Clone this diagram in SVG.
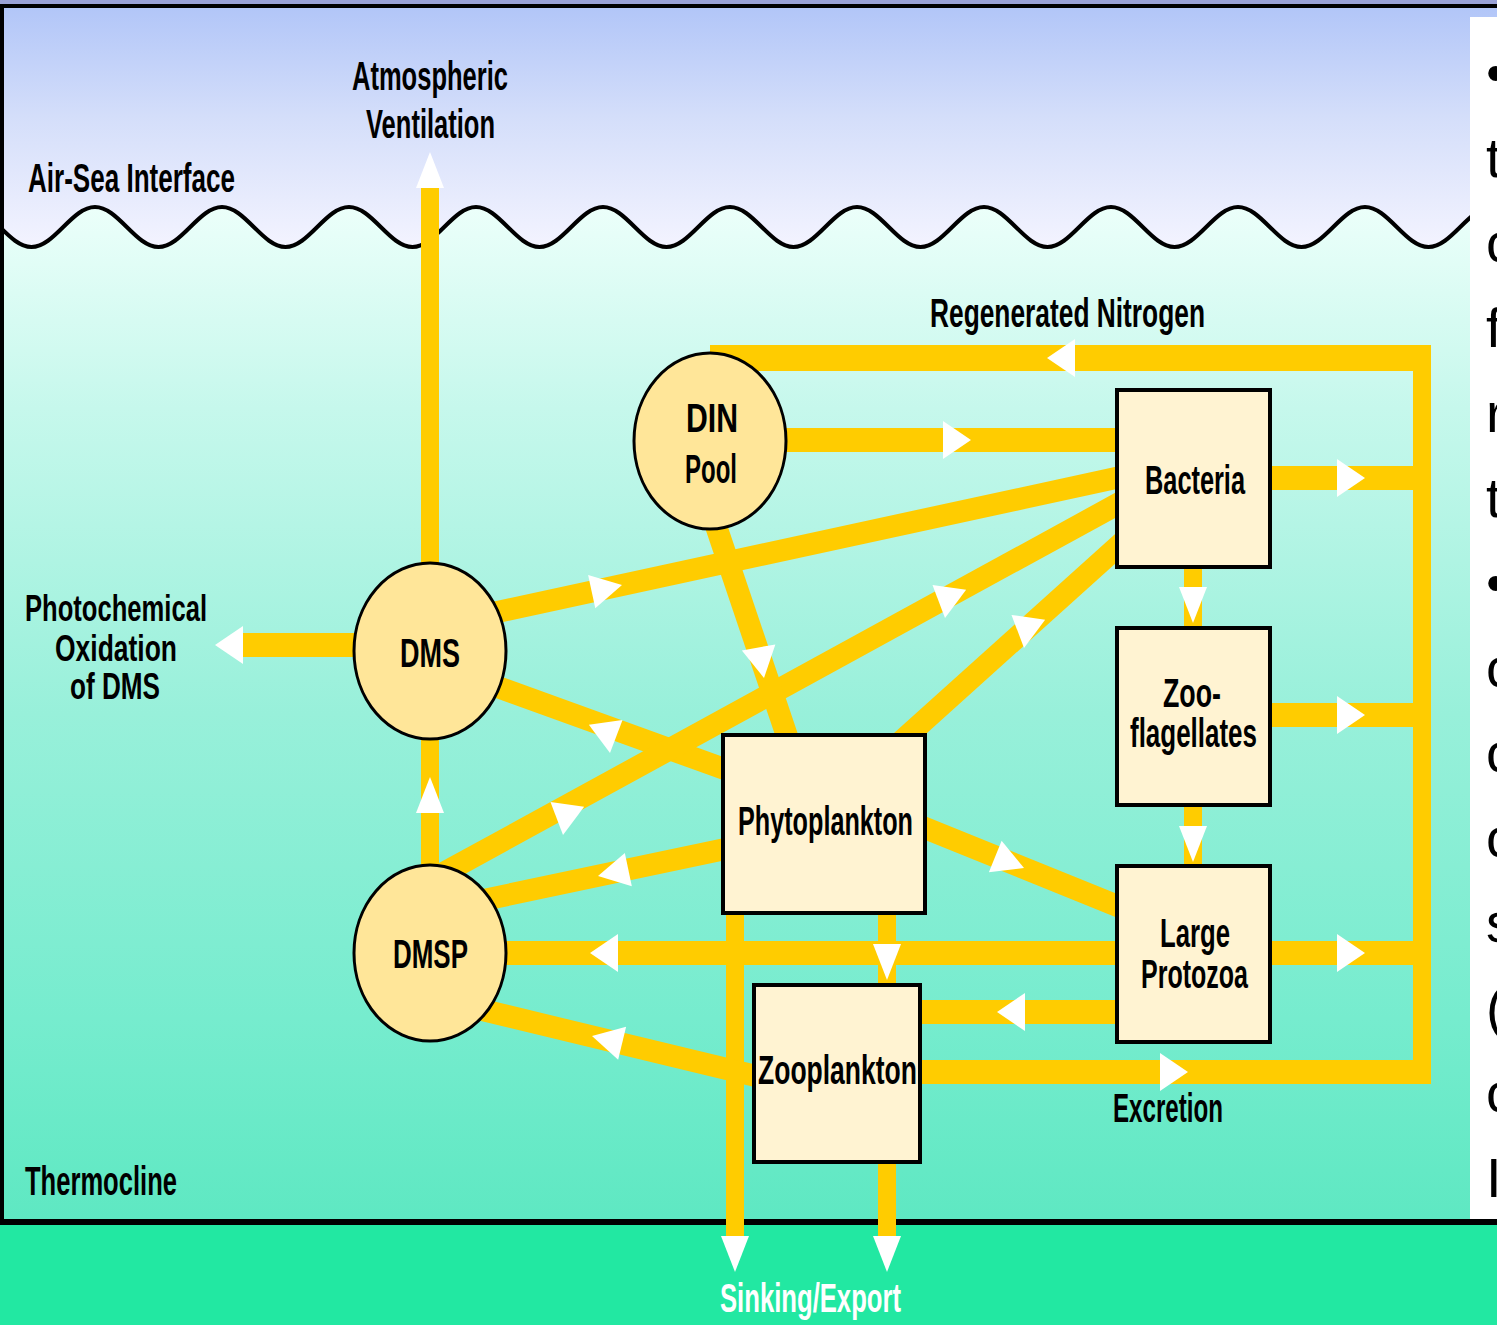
<svg xmlns="http://www.w3.org/2000/svg" width="1497" height="1325" viewBox="0 0 1497 1325">
<defs>
  <linearGradient id="sky" gradientUnits="userSpaceOnUse" x1="0" y1="8" x2="0" y2="250">
    <stop offset="0" stop-color="#b2c6f8"/>
    <stop offset="0.45" stop-color="#d4defa"/>
    <stop offset="1" stop-color="#f4f4ff"/>
  </linearGradient>
  <linearGradient id="sea" gradientUnits="userSpaceOnUse" x1="0" y1="205" x2="0" y2="1222">
    <stop offset="0" stop-color="#ecfffa"/>
    <stop offset="0.2" stop-color="#c6f8ec"/>
    <stop offset="0.5" stop-color="#98f0da"/>
    <stop offset="0.8" stop-color="#76ecce"/>
    <stop offset="1" stop-color="#5ee8c2"/>
  </linearGradient>
  <polygon id="ah-h" points="0,0 -28,-19 -28,19" fill="#ffffff"/>
  <polygon id="ah-v" points="0,0 -36,-14 -36,14" fill="#ffffff"/>
  <polygon id="ah-d" points="0,0 -31,-17 -31,17" fill="#ffffff"/>
</defs>
<style>
  .flow{fill:none;stroke:#ffcc00;stroke-width:22;stroke-linecap:butt}
  .fh{stroke-width:24}
  .fv{stroke-width:18}
  .circ{fill:#ffe699;stroke:#000;stroke-width:3}
  .box{fill:#fff3d2;stroke:#000;stroke-width:4}
  .lbl{font-family:"Liberation Sans",Arial,sans-serif;font-weight:bold;font-size:40px;fill:#000}
  .sm{font-size:37px}
  .wlbl{fill:#ffffff}
  .side{font-family:"Liberation Sans",Arial,sans-serif;font-size:56px;fill:#000}
</style>

<!-- background -->
<g id="background">
  <rect x="0" y="0" width="1497" height="1325" fill="url(#sky)"/>
  <path d="M -32 207 C -8.92 207 8.42 247 31.5 247 S 71.92 207 95 207 S 135.42 247 158.5 247 S 198.92 207 222 207 S 262.42 247 285.5 247 S 325.92 207 349 207 S 389.42 247 412.5 247 S 452.92 207 476 207 S 516.42 247 539.5 247 S 579.92 207 603 207 S 643.42 247 666.5 247 S 706.92 207 730 207 S 770.42 247 793.5 247 S 833.92 207 857 207 S 897.42 247 920.5 247 S 960.92 207 984 207 S 1024.42 247 1047.5 247 S 1087.92 207 1111 207 S 1151.42 247 1174.5 247 S 1214.92 207 1238 207 S 1278.42 247 1301.5 247 S 1341.92 207 1365 207 S 1405.42 247 1428.5 247 S 1468.92 207 1492 207 L 1492 1222 L -32 1222 Z" fill="url(#sea)"/>
  <path d="M -32 207 C -8.92 207 8.42 247 31.5 247 S 71.92 207 95 207 S 135.42 247 158.5 247 S 198.92 207 222 207 S 262.42 247 285.5 247 S 325.92 207 349 207 S 389.42 247 412.5 247 S 452.92 207 476 207 S 516.42 247 539.5 247 S 579.92 207 603 207 S 643.42 247 666.5 247 S 706.92 207 730 207 S 770.42 247 793.5 247 S 833.92 207 857 207 S 897.42 247 920.5 247 S 960.92 207 984 207 S 1024.42 247 1047.5 247 S 1087.92 207 1111 207 S 1151.42 247 1174.5 247 S 1214.92 207 1238 207 S 1278.42 247 1301.5 247 S 1341.92 207 1365 207 S 1405.42 247 1428.5 247 S 1468.92 207 1492 207" fill="none" stroke="#000" stroke-width="4"/>
  <rect x="0" y="1222" width="1497" height="103" fill="#22e8a2"/>
  <rect x="0" y="1219" width="1497" height="6" fill="#000"/>
  <rect x="0" y="0" width="1497" height="4" fill="#9aa2d6"/>
  <rect x="0" y="4" width="1497" height="4" fill="#000"/>
  <rect x="0" y="4" width="4" height="1220" fill="#000"/>
</g>

<!-- connectors -->
<g id="connectors">
  <line class="flow fv" x1="430" y1="600" x2="430" y2="186"/>
  <line class="flow fh" x1="400" y1="645" x2="242" y2="645"/>
  <line class="flow fv" x1="430" y1="900" x2="430" y2="700"/>
  <line class="flow fh" x1="760" y1="440" x2="1130" y2="440"/>
  <line class="flow" style="stroke-width:26" x1="710" y1="358" x2="1431" y2="358"/>
  <line class="flow fv" x1="1422" y1="345" x2="1422" y2="1084"/>
  <line class="flow fh" x1="910" y1="1072" x2="1431" y2="1072"/>
  <line class="flow fh" x1="1260" y1="478" x2="1422" y2="478"/>
  <line class="flow fh" x1="1260" y1="715" x2="1422" y2="715"/>
  <line class="flow fh" x1="1260" y1="953" x2="1422" y2="953"/>
  <line class="flow fv" x1="1193" y1="560" x2="1193" y2="635"/>
  <line class="flow fv" x1="1193" y1="798" x2="1193" y2="872"/>
  <line class="flow fh" x1="1130" y1="953" x2="480" y2="953"/>
  <line class="flow fh" x1="1130" y1="1012" x2="910" y2="1012"/>
  <line class="flow fv" x1="887" y1="900" x2="887" y2="990"/>
  <line class="flow fv" x1="735" y1="900" x2="735" y2="1237"/>
  <line class="flow fv" x1="887" y1="1150" x2="887" y2="1237"/>
  <line class="flow" x1="760" y1="1077" x2="470" y2="1007"/>
  <line class="flow" x1="730" y1="848" x2="460" y2="905"/>
  <line class="flow" x1="470" y1="618" x2="1125" y2="476"/>
  <line class="flow" x1="470" y1="677" x2="730" y2="771"/>
  <line class="flow" x1="440" y1="875" x2="1125" y2="500"/>
  <line class="flow" x1="1125" y1="540" x2="895" y2="747"/>
  <line class="flow" x1="714" y1="520" x2="790" y2="745"/>
  <line class="flow" x1="915" y1="824" x2="1125" y2="909"/>

  <!-- arrowheads -->
  <use href="#ah-v" transform="translate(430 152) rotate(-90)"/>
  <use href="#ah-h" transform="translate(215 645) rotate(180)"/>
  <use href="#ah-v" transform="translate(430 777) rotate(-90)"/>
  <use href="#ah-h" transform="translate(971 440)"/>
  <use href="#ah-h" transform="translate(1047 358) rotate(180)"/>
  <use href="#ah-h" transform="translate(1365 478)"/>
  <use href="#ah-h" transform="translate(1365 715)"/>
  <use href="#ah-h" transform="translate(1365 953)"/>
  <use href="#ah-h" transform="translate(1188 1072)"/>
  <use href="#ah-h" transform="translate(590 953) rotate(180)"/>
  <use href="#ah-h" transform="translate(997 1012) rotate(180)"/>
  <use href="#ah-v" transform="translate(1193 623) rotate(90)"/>
  <use href="#ah-v" transform="translate(1193 862) rotate(90)"/>
  <use href="#ah-v" transform="translate(887 980) rotate(90)"/>
  <use href="#ah-v" transform="translate(735 1272) rotate(90)"/>
  <use href="#ah-v" transform="translate(887 1272) rotate(90)"/>
  <use href="#ah-d" transform="translate(622 585) rotate(-12.2)"/>
  <use href="#ah-d" transform="translate(610 753) rotate(82)"/>
  <use href="#ah-d" transform="translate(563 835) rotate(98)"/>
  <use href="#ah-d" transform="translate(945 618) rotate(98)"/>
  <use href="#ah-d" transform="translate(1024 648) rotate(98)"/>
  <use href="#ah-d" transform="translate(764 678) rotate(80)"/>
  <use href="#ah-d" transform="translate(1024 868) rotate(22)"/>
  <use href="#ah-d" transform="translate(598 876) rotate(168.1)"/>
  <use href="#ah-d" transform="translate(592 1036) rotate(193.6)"/>
</g>

<!-- nodes -->
<g id="node-din">
  <ellipse class="circ" cx="710" cy="441" rx="76" ry="88"/>
  <text class="lbl" x="686" y="432" textLength="52" lengthAdjust="spacingAndGlyphs">DIN</text>
  <text class="lbl" x="685" y="483" textLength="52" lengthAdjust="spacingAndGlyphs">Pool</text>
</g>
<g id="node-dms">
  <ellipse class="circ" cx="430" cy="651" rx="76" ry="88"/>
  <text class="lbl" x="400" y="667" textLength="60" lengthAdjust="spacingAndGlyphs">DMS</text>
</g>
<g id="node-dmsp">
  <ellipse class="circ" cx="430" cy="953" rx="76" ry="88"/>
  <text class="lbl" x="393" y="968" textLength="75" lengthAdjust="spacingAndGlyphs">DMSP</text>
</g>
<g id="node-bacteria">
  <rect class="box" x="1117" y="390" width="153" height="177"/>
  <text class="lbl" x="1145" y="494" textLength="100" lengthAdjust="spacingAndGlyphs">Bacteria</text>
</g>
<g id="node-zooflagellates">
  <rect class="box" x="1117" y="628" width="153" height="177"/>
  <text class="lbl" x="1163" y="707" textLength="58" lengthAdjust="spacingAndGlyphs">Zoo-</text>
  <text class="lbl" x="1130" y="747" textLength="127" lengthAdjust="spacingAndGlyphs">flagellates</text>
</g>
<g id="node-largeprotozoa">
  <rect class="box" x="1117" y="866" width="153" height="176"/>
  <text class="lbl" x="1160" y="947" textLength="70" lengthAdjust="spacingAndGlyphs">Large</text>
  <text class="lbl" x="1141" y="988" textLength="107" lengthAdjust="spacingAndGlyphs">Protozoa</text>
</g>
<g id="node-phytoplankton">
  <rect class="box" x="723" y="735" width="202" height="178"/>
  <text class="lbl" x="738" y="835" textLength="175" lengthAdjust="spacingAndGlyphs">Phytoplankton</text>
</g>
<g id="node-zooplankton">
  <rect class="box" x="754" y="985" width="166" height="177"/>
  <text class="lbl" x="758" y="1084" textLength="159" lengthAdjust="spacingAndGlyphs">Zooplankton</text>
</g>

<!-- free labels -->
<g id="labels">
  <text class="lbl" x="352" y="90" textLength="156" lengthAdjust="spacingAndGlyphs">Atmospheric</text>
  <text class="lbl" x="366" y="138" textLength="129" lengthAdjust="spacingAndGlyphs">Ventilation</text>
  <text class="lbl" x="28" y="192" textLength="207" lengthAdjust="spacingAndGlyphs">Air-Sea Interface</text>
  <text class="lbl" x="930" y="327" textLength="275" lengthAdjust="spacingAndGlyphs">Regenerated Nitrogen</text>
  <text class="lbl sm" x="25" y="621" textLength="182" lengthAdjust="spacingAndGlyphs">Photochemical</text>
  <text class="lbl sm" x="55" y="661" textLength="122" lengthAdjust="spacingAndGlyphs">Oxidation</text>
  <text class="lbl sm" x="70" y="699" textLength="90" lengthAdjust="spacingAndGlyphs">of DMS</text>
  <text class="lbl" x="1113" y="1122" textLength="110" lengthAdjust="spacingAndGlyphs">Excretion</text>
  <text class="lbl" x="25" y="1195" textLength="152" lengthAdjust="spacingAndGlyphs">Thermocline</text>
  <text class="lbl wlbl" x="720" y="1312" textLength="181" lengthAdjust="spacingAndGlyphs">Sinking/Export</text>
</g>

<!-- cut-off side panel -->
<g id="side-panel">
  <rect x="1470" y="17" width="27" height="1202" fill="#ffffff"/>
  <text class="side" x="1486" y="92">•</text>
  <text class="side" x="1486" y="177">t</text>
  <text class="side" x="1486" y="262">c</text>
  <text class="side" x="1486" y="347">f</text>
  <text class="side" x="1486" y="432">r</text>
  <text class="side" x="1486" y="517">t</text>
  <text class="side" x="1486" y="602">•</text>
  <text class="side" x="1486" y="687">c</text>
  <text class="side" x="1486" y="772">c</text>
  <text class="side" x="1486" y="857">c</text>
  <text class="side" x="1486" y="942">s</text>
  <text class="side" x="1486" y="1027">(</text>
  <text class="side" x="1486" y="1112">c</text>
  <text class="side" x="1486" y="1197">I</text>
</g>
</svg>
